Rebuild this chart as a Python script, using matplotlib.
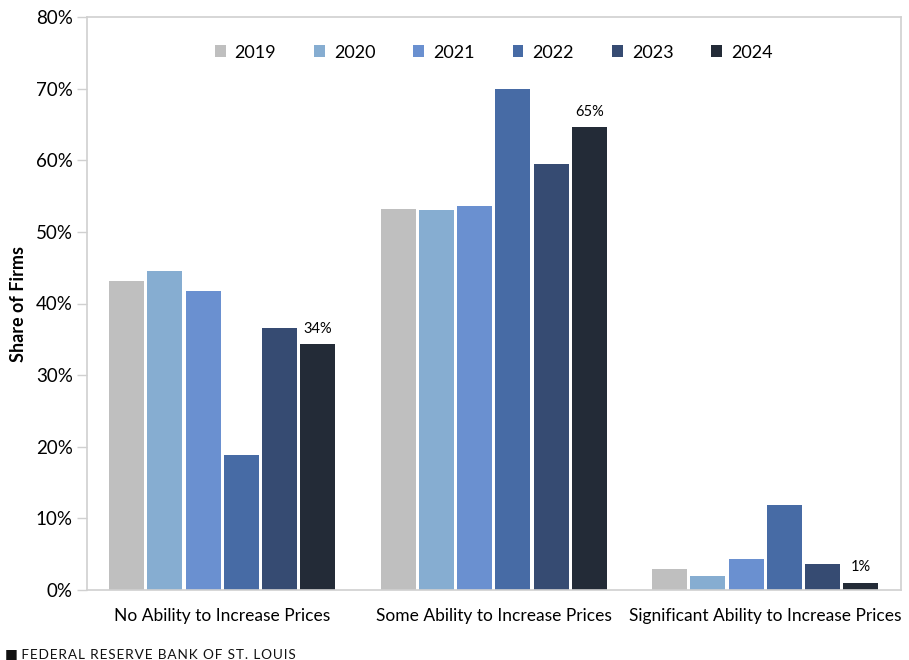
import matplotlib
matplotlib.use("Agg")
import matplotlib.pyplot as plt
import numpy as np

categories = ["No Ability to Increase Prices", "Some Ability to Increase Prices",
              "Significant Ability to Increase Prices"]
years = ["2019", "2020", "2021", "2022", "2023", "2024"]
values = {
    "2019": [43.2, 53.2, 2.9],
    "2020": [44.6, 53.1, 2.0],
    "2021": [41.8, 53.6, 4.3],
    "2022": [18.9, 70.0, 11.9],
    "2023": [36.6, 59.5, 3.6],
    "2024": [34.3, 64.6, 1.0],
}
labels_2024 = ["34%", "65%", "1%"]
colors = ["#BFBFBF", "#86ADD1", "#6A90D0", "#476BA5", "#364B72", "#232B37"]

plt.rcParams['font.family'] = ['Lato', 'DejaVu Sans']

fig = plt.figure(figsize=(9.09, 6.6), dpi=100)
ax = fig.add_axes([86.5/909, 70/660, (901-86.5)/909, (590-17)/660])

x = np.arange(len(categories))
stride = 0.1407
width = 0.129
for i, y in enumerate(years):
    off = (i - 2.5) * stride
    ax.bar(x + off, values[y], width=width, color=colors[i], label=y, zorder=2)
    if y == "2024":
        for xi, v, lab in zip(x + off, values[y], labels_2024):
            ax.text(xi, v + 1.2, lab, ha='center', va='bottom', fontsize=10.5, color='black')

ax.set_xlim(-0.5, 2.5)
ax.set_ylim(0, 80)
ax.set_yticks(np.arange(0, 81, 10))
ax.set_yticklabels([f"{t}%" for t in range(0, 81, 10)], fontsize=13.5)
ax.set_xticks(x)
ax.set_xticklabels(categories, fontsize=12.5)
ax.tick_params(axis='x', length=0, pad=13)
ax.tick_params(axis='y', length=7, color='#D0D0D0', width=1, pad=3)
for s in ax.spines.values():
    s.set_color('#D0D0D0')
    s.set_linewidth(1.2)
ax.set_ylabel("Share of Firms", fontsize=13, fontweight='bold', labelpad=6)

leg = ax.legend(loc='center', bbox_to_anchor=(0.5, 0.938), ncol=6, frameon=False,
                fontsize=13, handlelength=0.6, handleheight=0.6, columnspacing=2.1,
                handletextpad=0.5)

footer = "\u200a".join("FEDERAL RESERVE BANK OF ST. LOUIS")
fig.text(5/909, 1 - 654/660, "■ " + footer,
         fontsize=9.8, va='center', ha='left', color='#111111')

fig.savefig("out.png", dpi=100)
